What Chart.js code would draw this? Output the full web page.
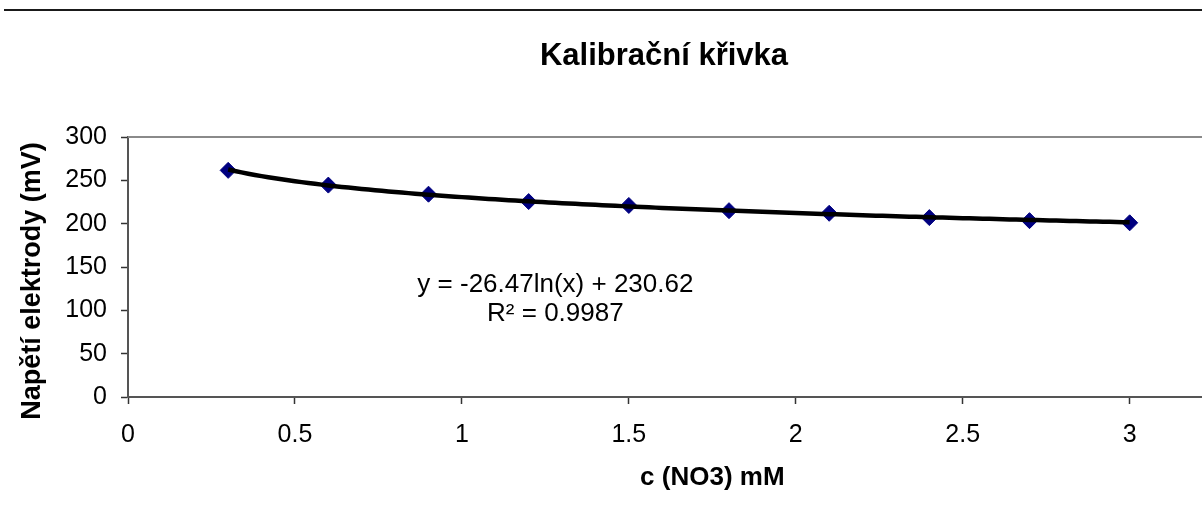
<!DOCTYPE html>
<html lang="cs">
<head>
<meta charset="utf-8">
<title>Kalibrační křivka</title>
<script src="https://cdn.jsdelivr.net/npm/chart.js@4.4.1/dist/chart.umd.min.js"></script>
<style>
  html, body { margin: 0; padding: 0; background: #fff; overflow: hidden; }
  #wrap { position: relative; width: 1330px; height: 524px; }
</style>
</head>
<body>
<div id="wrap"><canvas id="chartKalibrace"></canvas></div>
<script>
// namerene body
const koncentrace = [0.3, 0.6, 0.9, 1.2, 1.5, 1.8, 2.1, 2.4, 2.7, 3.0];
const napeti = [261.5, 244.5, 234, 225.5, 221, 215, 212, 207, 203.5, 201];

const xTicks = [0, 0.5, 1, 1.5, 2, 2.5, 3, 3.5];
const yTicks = [0, 50, 100, 150, 200, 250, 300];

// logaritmicky trend (koeficienty z rovnice v grafu)
const trendA = -26.47;
const trendB = 230.62;
const rovnice = ['y = -26.47ln(x) + 230.62', 'R² = 0.9987'];
const nadpis = 'Kalibrační křivka';

const FONT = "'Liberation Sans', Arial, sans-serif";
Chart.defaults.font.family = FONT;
Chart.defaults.color = '#000';

const trend = [];
for (let x = koncentrace[0]; x <= koncentrace[koncentrace.length - 1] + 1e-9; x += 0.02) {
    trend.push({ x: x, y: trendA * Math.log(x) + trendB });
}

const dekorace = {
    id: 'dekorace',
    afterDraw(chart) {
        const { ctx, chartArea, scales } = chart;
        ctx.save();
        // horni okraj
        ctx.strokeStyle = '#1a1a1a';
        ctx.lineWidth = 2;
        ctx.beginPath();
        ctx.moveTo(4, 10);
        ctx.lineTo(chart.width, 10);
        ctx.stroke();
        // horni hrana plochy grafu
        ctx.strokeStyle = '#8a8a8a';
        ctx.beginPath();
        ctx.moveTo(chartArea.left, chartArea.top);
        ctx.lineTo(chartArea.right, chartArea.top);
        ctx.stroke();
        ctx.fillStyle = '#000';
        ctx.textAlign = 'center';
        ctx.textBaseline = 'middle';
        // nadpis (stred podle puvodniho grafu)
        ctx.font = 'bold 31px ' + FONT;
        ctx.fillText(nadpis, 664, 56);
        // rovnice trendu
        ctx.font = '26px ' + FONT;
        const ex = scales.x.getPixelForValue(1.28);
        ctx.fillText(rovnice[0], ex, scales.y.getPixelForValue(129));
        ctx.fillText(rovnice[1], ex, scales.y.getPixelForValue(96));
        // popis osy y
        ctx.font = 'bold 27px ' + FONT;
        ctx.translate(33, (chartArea.top + chartArea.bottom) / 2 + 14);
        ctx.rotate(-Math.PI / 2);
        ctx.fillText('Napětí elektrody (mV)', 0, 0);
        ctx.restore();
    }
};

new Chart(document.getElementById('chartKalibrace'), {
    type: 'scatter',
    data: {
        datasets: [
            {
                label: 'trend',
                data: trend,
                showLine: true,
                borderColor: '#000',
                borderWidth: 4.5,
                pointRadius: 0,
                fill: false,
                order: 0,
            },
            {
                label: 'Napětí',
                data: koncentrace.map((c, i) => ({ x: c, y: napeti[i] })),
                showLine: false,
                pointStyle: 'rectRot',
                pointRadius: 8,
                backgroundColor: '#000080',
                borderColor: '#000080',
                borderWidth: 1,
                order: 1,
            },
        ],
    },
    options: {
        responsive: true,
        maintainAspectRatio: false,
        animation: false,
        devicePixelRatio: 1,
        layout: { padding: { left: 0, right: 27, top: 137, bottom: 0 } },
        plugins: {
            legend: { display: false },
            tooltip: { enabled: false },
            title: { display: false },
        },
        scales: {
            x: {
                type: 'linear',
                min: 0,
                max: 3.5,
                afterBuildTicks: (s) => { s.ticks = xTicks.map(v => ({ value: v })); },
                afterFit: (s) => { s.height = 127; },
                border: { color: '#555', width: 2 },
                grid: { drawOnChartArea: false, drawTicks: true, tickLength: 7, tickColor: '#333', tickWidth: 1.5 },
                ticks: { font: { size: 25 }, color: '#000', padding: 16, callback: (v) => String(v) },
                title: {
                    display: true,
                    text: 'c (NO3) mM',
                    color: '#000',
                    font: { size: 26, weight: 'bold' },
                    padding: { top: 0, bottom: 31 },
                },
            },
            y: {
                min: 0,
                max: 300,
                afterBuildTicks: (s) => { s.ticks = yTicks.map(v => ({ value: v })); },
                afterFit: (s) => { s.width = 128; },
                border: { color: '#555', width: 2 },
                grid: { drawOnChartArea: false, drawTicks: true, tickLength: 7, tickColor: '#333', tickWidth: 1.5 },
                ticks: { font: { size: 25 }, color: '#000', padding: 14, callback: (v) => String(v) },
            },
        },
    },
    plugins: [dekorace],
});
</script>
</body>
</html>
